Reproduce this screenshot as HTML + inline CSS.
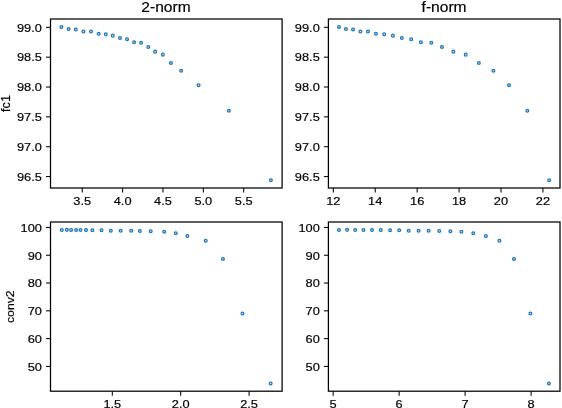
<!DOCTYPE html>
<html><head><meta charset="utf-8"><style>
html,body{margin:0;padding:0;background:#fff;}
svg{display:block;will-change:transform;}
text{font-family:"Liberation Sans",sans-serif;font-size:11.6px;fill:#000;stroke:#000;stroke-width:0.18px;}
</style></head><body>
<svg width="562" height="408" viewBox="0 0 562 408">
<rect width="562" height="408" fill="#fff"/>
<rect x="50.5" y="19.0" width="231.60" height="169.00" fill="none" stroke="#000" stroke-width="1.25"/>
<rect x="328.4" y="19.0" width="231.60" height="169.00" fill="none" stroke="#000" stroke-width="1.25"/>
<rect x="50.5" y="222.0" width="231.60" height="169.20" fill="none" stroke="#000" stroke-width="1.25"/>
<rect x="328.4" y="222.0" width="231.60" height="169.20" fill="none" stroke="#000" stroke-width="1.25"/>
<line x1="46.00" y1="27.32" x2="50.50" y2="27.32" stroke="#000" stroke-width="1.05"/>
<text x="41.90" y="31.62" text-anchor="end" textLength="24.92" lengthAdjust="spacingAndGlyphs">99.0</text>
<line x1="46.00" y1="57.17" x2="50.50" y2="57.17" stroke="#000" stroke-width="1.05"/>
<text x="41.90" y="61.47" text-anchor="end" textLength="24.92" lengthAdjust="spacingAndGlyphs">98.5</text>
<line x1="46.00" y1="87.02" x2="50.50" y2="87.02" stroke="#000" stroke-width="1.05"/>
<text x="41.90" y="91.32" text-anchor="end" textLength="24.92" lengthAdjust="spacingAndGlyphs">98.0</text>
<line x1="46.00" y1="116.87" x2="50.50" y2="116.87" stroke="#000" stroke-width="1.05"/>
<text x="41.90" y="121.17" text-anchor="end" textLength="24.92" lengthAdjust="spacingAndGlyphs">97.5</text>
<line x1="46.00" y1="146.72" x2="50.50" y2="146.72" stroke="#000" stroke-width="1.05"/>
<text x="41.90" y="151.02" text-anchor="end" textLength="24.92" lengthAdjust="spacingAndGlyphs">97.0</text>
<line x1="46.00" y1="176.57" x2="50.50" y2="176.57" stroke="#000" stroke-width="1.05"/>
<text x="41.90" y="180.87" text-anchor="end" textLength="24.92" lengthAdjust="spacingAndGlyphs">96.5</text>
<line x1="323.90" y1="27.32" x2="328.40" y2="27.32" stroke="#000" stroke-width="1.05"/>
<text x="319.80" y="31.62" text-anchor="end" textLength="24.92" lengthAdjust="spacingAndGlyphs">99.0</text>
<line x1="323.90" y1="57.17" x2="328.40" y2="57.17" stroke="#000" stroke-width="1.05"/>
<text x="319.80" y="61.47" text-anchor="end" textLength="24.92" lengthAdjust="spacingAndGlyphs">98.5</text>
<line x1="323.90" y1="87.02" x2="328.40" y2="87.02" stroke="#000" stroke-width="1.05"/>
<text x="319.80" y="91.32" text-anchor="end" textLength="24.92" lengthAdjust="spacingAndGlyphs">98.0</text>
<line x1="323.90" y1="116.87" x2="328.40" y2="116.87" stroke="#000" stroke-width="1.05"/>
<text x="319.80" y="121.17" text-anchor="end" textLength="24.92" lengthAdjust="spacingAndGlyphs">97.5</text>
<line x1="323.90" y1="146.72" x2="328.40" y2="146.72" stroke="#000" stroke-width="1.05"/>
<text x="319.80" y="151.02" text-anchor="end" textLength="24.92" lengthAdjust="spacingAndGlyphs">97.0</text>
<line x1="323.90" y1="176.57" x2="328.40" y2="176.57" stroke="#000" stroke-width="1.05"/>
<text x="319.80" y="180.87" text-anchor="end" textLength="24.92" lengthAdjust="spacingAndGlyphs">96.5</text>
<line x1="46.00" y1="227.46" x2="50.50" y2="227.46" stroke="#000" stroke-width="1.05"/>
<text x="41.90" y="231.76" text-anchor="end" textLength="21.36" lengthAdjust="spacingAndGlyphs">100</text>
<line x1="46.00" y1="255.25" x2="50.50" y2="255.25" stroke="#000" stroke-width="1.05"/>
<text x="41.90" y="259.55" text-anchor="end" textLength="14.24" lengthAdjust="spacingAndGlyphs">90</text>
<line x1="46.00" y1="283.04" x2="50.50" y2="283.04" stroke="#000" stroke-width="1.05"/>
<text x="41.90" y="287.34" text-anchor="end" textLength="14.24" lengthAdjust="spacingAndGlyphs">80</text>
<line x1="46.00" y1="310.83" x2="50.50" y2="310.83" stroke="#000" stroke-width="1.05"/>
<text x="41.90" y="315.13" text-anchor="end" textLength="14.24" lengthAdjust="spacingAndGlyphs">70</text>
<line x1="46.00" y1="338.62" x2="50.50" y2="338.62" stroke="#000" stroke-width="1.05"/>
<text x="41.90" y="342.92" text-anchor="end" textLength="14.24" lengthAdjust="spacingAndGlyphs">60</text>
<line x1="46.00" y1="366.41" x2="50.50" y2="366.41" stroke="#000" stroke-width="1.05"/>
<text x="41.90" y="370.71" text-anchor="end" textLength="14.24" lengthAdjust="spacingAndGlyphs">50</text>
<line x1="323.90" y1="227.46" x2="328.40" y2="227.46" stroke="#000" stroke-width="1.05"/>
<text x="319.80" y="231.76" text-anchor="end" textLength="21.36" lengthAdjust="spacingAndGlyphs">100</text>
<line x1="323.90" y1="255.25" x2="328.40" y2="255.25" stroke="#000" stroke-width="1.05"/>
<text x="319.80" y="259.55" text-anchor="end" textLength="14.24" lengthAdjust="spacingAndGlyphs">90</text>
<line x1="323.90" y1="283.04" x2="328.40" y2="283.04" stroke="#000" stroke-width="1.05"/>
<text x="319.80" y="287.34" text-anchor="end" textLength="14.24" lengthAdjust="spacingAndGlyphs">80</text>
<line x1="323.90" y1="310.83" x2="328.40" y2="310.83" stroke="#000" stroke-width="1.05"/>
<text x="319.80" y="315.13" text-anchor="end" textLength="14.24" lengthAdjust="spacingAndGlyphs">70</text>
<line x1="323.90" y1="338.62" x2="328.40" y2="338.62" stroke="#000" stroke-width="1.05"/>
<text x="319.80" y="342.92" text-anchor="end" textLength="14.24" lengthAdjust="spacingAndGlyphs">60</text>
<line x1="323.90" y1="366.41" x2="328.40" y2="366.41" stroke="#000" stroke-width="1.05"/>
<text x="319.80" y="370.71" text-anchor="end" textLength="14.24" lengthAdjust="spacingAndGlyphs">50</text>
<line x1="82.27" y1="188.00" x2="82.27" y2="192.50" stroke="#000" stroke-width="1.05"/>
<text x="82.27" y="205.00" text-anchor="middle" textLength="17.80" lengthAdjust="spacingAndGlyphs">3.5</text>
<line x1="122.62" y1="188.00" x2="122.62" y2="192.50" stroke="#000" stroke-width="1.05"/>
<text x="122.62" y="205.00" text-anchor="middle" textLength="17.80" lengthAdjust="spacingAndGlyphs">4.0</text>
<line x1="162.97" y1="188.00" x2="162.97" y2="192.50" stroke="#000" stroke-width="1.05"/>
<text x="162.97" y="205.00" text-anchor="middle" textLength="17.80" lengthAdjust="spacingAndGlyphs">4.5</text>
<line x1="203.32" y1="188.00" x2="203.32" y2="192.50" stroke="#000" stroke-width="1.05"/>
<text x="203.32" y="205.00" text-anchor="middle" textLength="17.80" lengthAdjust="spacingAndGlyphs">5.0</text>
<line x1="243.67" y1="188.00" x2="243.67" y2="192.50" stroke="#000" stroke-width="1.05"/>
<text x="243.67" y="205.00" text-anchor="middle" textLength="17.80" lengthAdjust="spacingAndGlyphs">5.5</text>
<line x1="333.32" y1="188.00" x2="333.32" y2="192.50" stroke="#000" stroke-width="1.05"/>
<text x="333.32" y="205.00" text-anchor="middle" textLength="14.24" lengthAdjust="spacingAndGlyphs">12</text>
<line x1="375.24" y1="188.00" x2="375.24" y2="192.50" stroke="#000" stroke-width="1.05"/>
<text x="375.24" y="205.00" text-anchor="middle" textLength="14.24" lengthAdjust="spacingAndGlyphs">14</text>
<line x1="417.16" y1="188.00" x2="417.16" y2="192.50" stroke="#000" stroke-width="1.05"/>
<text x="417.16" y="205.00" text-anchor="middle" textLength="14.24" lengthAdjust="spacingAndGlyphs">16</text>
<line x1="459.08" y1="188.00" x2="459.08" y2="192.50" stroke="#000" stroke-width="1.05"/>
<text x="459.08" y="205.00" text-anchor="middle" textLength="14.24" lengthAdjust="spacingAndGlyphs">18</text>
<line x1="501.00" y1="188.00" x2="501.00" y2="192.50" stroke="#000" stroke-width="1.05"/>
<text x="501.00" y="205.00" text-anchor="middle" textLength="14.24" lengthAdjust="spacingAndGlyphs">20</text>
<line x1="542.92" y1="188.00" x2="542.92" y2="192.50" stroke="#000" stroke-width="1.05"/>
<text x="542.92" y="205.00" text-anchor="middle" textLength="14.24" lengthAdjust="spacingAndGlyphs">22</text>
<line x1="112.30" y1="391.20" x2="112.30" y2="395.70" stroke="#000" stroke-width="1.05"/>
<text x="112.30" y="408.20" text-anchor="middle" textLength="17.80" lengthAdjust="spacingAndGlyphs">1.5</text>
<line x1="180.70" y1="391.20" x2="180.70" y2="395.70" stroke="#000" stroke-width="1.05"/>
<text x="180.70" y="408.20" text-anchor="middle" textLength="17.80" lengthAdjust="spacingAndGlyphs">2.0</text>
<line x1="249.10" y1="391.20" x2="249.10" y2="395.70" stroke="#000" stroke-width="1.05"/>
<text x="249.10" y="408.20" text-anchor="middle" textLength="17.80" lengthAdjust="spacingAndGlyphs">2.5</text>
<line x1="333.17" y1="391.20" x2="333.17" y2="395.70" stroke="#000" stroke-width="1.05"/>
<text x="333.17" y="408.20" text-anchor="middle" textLength="7.12" lengthAdjust="spacingAndGlyphs">5</text>
<line x1="399.15" y1="391.20" x2="399.15" y2="395.70" stroke="#000" stroke-width="1.05"/>
<text x="399.15" y="408.20" text-anchor="middle" textLength="7.12" lengthAdjust="spacingAndGlyphs">6</text>
<line x1="465.13" y1="391.20" x2="465.13" y2="395.70" stroke="#000" stroke-width="1.05"/>
<text x="465.13" y="408.20" text-anchor="middle" textLength="7.12" lengthAdjust="spacingAndGlyphs">7</text>
<line x1="531.11" y1="391.20" x2="531.11" y2="395.70" stroke="#000" stroke-width="1.05"/>
<text x="531.11" y="408.20" text-anchor="middle" textLength="7.12" lengthAdjust="spacingAndGlyphs">8</text>
<circle cx="61.4" cy="27.1" r="1.4" fill="#cfe2f1" stroke="#1f77b4" stroke-width="1.25"/>
<circle cx="68.65" cy="28.95" r="1.4" fill="#cfe2f1" stroke="#1f77b4" stroke-width="1.25"/>
<circle cx="75.77" cy="29.52" r="1.4" fill="#cfe2f1" stroke="#1f77b4" stroke-width="1.25"/>
<circle cx="83.45" cy="31.5" r="1.4" fill="#cfe2f1" stroke="#1f77b4" stroke-width="1.25"/>
<circle cx="91.0" cy="31.4" r="1.4" fill="#cfe2f1" stroke="#1f77b4" stroke-width="1.25"/>
<circle cx="98.68" cy="33.79" r="1.4" fill="#cfe2f1" stroke="#1f77b4" stroke-width="1.25"/>
<circle cx="105.8" cy="34.36" r="1.4" fill="#cfe2f1" stroke="#1f77b4" stroke-width="1.25"/>
<circle cx="112.78" cy="35.64" r="1.4" fill="#cfe2f1" stroke="#1f77b4" stroke-width="1.25"/>
<circle cx="120.0" cy="37.9" r="1.4" fill="#cfe2f1" stroke="#1f77b4" stroke-width="1.25"/>
<circle cx="127.05" cy="39.2" r="1.4" fill="#cfe2f1" stroke="#1f77b4" stroke-width="1.25"/>
<circle cx="134.1" cy="42.24" r="1.4" fill="#cfe2f1" stroke="#1f77b4" stroke-width="1.25"/>
<circle cx="141.07" cy="42.81" r="1.4" fill="#cfe2f1" stroke="#1f77b4" stroke-width="1.25"/>
<circle cx="148.33" cy="46.94" r="1.4" fill="#cfe2f1" stroke="#1f77b4" stroke-width="1.25"/>
<circle cx="155.16" cy="51.64" r="1.4" fill="#cfe2f1" stroke="#1f77b4" stroke-width="1.25"/>
<circle cx="162.85" cy="54.63" r="1.4" fill="#cfe2f1" stroke="#1f77b4" stroke-width="1.25"/>
<circle cx="170.96" cy="63.03" r="1.4" fill="#cfe2f1" stroke="#1f77b4" stroke-width="1.25"/>
<circle cx="181.2" cy="70.75" r="1.4" fill="#cfe2f1" stroke="#1f77b4" stroke-width="1.25"/>
<circle cx="198.6" cy="85.15" r="1.4" fill="#cfe2f1" stroke="#1f77b4" stroke-width="1.25"/>
<circle cx="228.9" cy="110.8" r="1.4" fill="#cfe2f1" stroke="#1f77b4" stroke-width="1.25"/>
<circle cx="270.9" cy="180.2" r="1.4" fill="#cfe2f1" stroke="#1f77b4" stroke-width="1.25"/>
<circle cx="338.95" cy="27.1" r="1.4" fill="#cfe2f1" stroke="#1f77b4" stroke-width="1.25"/>
<circle cx="345.93" cy="28.95" r="1.4" fill="#cfe2f1" stroke="#1f77b4" stroke-width="1.25"/>
<circle cx="353.05" cy="29.52" r="1.4" fill="#cfe2f1" stroke="#1f77b4" stroke-width="1.25"/>
<circle cx="360.45" cy="31.5" r="1.4" fill="#cfe2f1" stroke="#1f77b4" stroke-width="1.25"/>
<circle cx="367.99" cy="31.4" r="1.4" fill="#cfe2f1" stroke="#1f77b4" stroke-width="1.25"/>
<circle cx="375.96" cy="33.79" r="1.4" fill="#cfe2f1" stroke="#1f77b4" stroke-width="1.25"/>
<circle cx="384.22" cy="34.36" r="1.4" fill="#cfe2f1" stroke="#1f77b4" stroke-width="1.25"/>
<circle cx="392.9" cy="35.64" r="1.4" fill="#cfe2f1" stroke="#1f77b4" stroke-width="1.25"/>
<circle cx="401.85" cy="37.9" r="1.4" fill="#cfe2f1" stroke="#1f77b4" stroke-width="1.25"/>
<circle cx="411.23" cy="39.2" r="1.4" fill="#cfe2f1" stroke="#1f77b4" stroke-width="1.25"/>
<circle cx="420.91" cy="42.24" r="1.4" fill="#cfe2f1" stroke="#1f77b4" stroke-width="1.25"/>
<circle cx="431.3" cy="42.81" r="1.4" fill="#cfe2f1" stroke="#1f77b4" stroke-width="1.25"/>
<circle cx="441.98" cy="46.94" r="1.4" fill="#cfe2f1" stroke="#1f77b4" stroke-width="1.25"/>
<circle cx="453.37" cy="51.64" r="1.4" fill="#cfe2f1" stroke="#1f77b4" stroke-width="1.25"/>
<circle cx="465.7" cy="54.63" r="1.4" fill="#cfe2f1" stroke="#1f77b4" stroke-width="1.25"/>
<circle cx="478.87" cy="63.03" r="1.4" fill="#cfe2f1" stroke="#1f77b4" stroke-width="1.25"/>
<circle cx="493.39" cy="70.75" r="1.4" fill="#cfe2f1" stroke="#1f77b4" stroke-width="1.25"/>
<circle cx="509.0" cy="85.15" r="1.4" fill="#cfe2f1" stroke="#1f77b4" stroke-width="1.25"/>
<circle cx="527.33" cy="110.8" r="1.4" fill="#cfe2f1" stroke="#1f77b4" stroke-width="1.25"/>
<circle cx="549.2" cy="180.2" r="1.4" fill="#cfe2f1" stroke="#1f77b4" stroke-width="1.25"/>
<circle cx="61.8" cy="229.96" r="1.4" fill="#cfe2f1" stroke="#1f77b4" stroke-width="1.25"/>
<circle cx="66.9" cy="229.85" r="1.4" fill="#cfe2f1" stroke="#1f77b4" stroke-width="1.25"/>
<circle cx="71.1" cy="229.96" r="1.4" fill="#cfe2f1" stroke="#1f77b4" stroke-width="1.25"/>
<circle cx="76.1" cy="229.96" r="1.4" fill="#cfe2f1" stroke="#1f77b4" stroke-width="1.25"/>
<circle cx="80.5" cy="229.96" r="1.4" fill="#cfe2f1" stroke="#1f77b4" stroke-width="1.25"/>
<circle cx="86.0" cy="230.1" r="1.4" fill="#cfe2f1" stroke="#1f77b4" stroke-width="1.25"/>
<circle cx="92.35" cy="230.15" r="1.4" fill="#cfe2f1" stroke="#1f77b4" stroke-width="1.25"/>
<circle cx="101.5" cy="230.24" r="1.4" fill="#cfe2f1" stroke="#1f77b4" stroke-width="1.25"/>
<circle cx="110.8" cy="230.67" r="1.4" fill="#cfe2f1" stroke="#1f77b4" stroke-width="1.25"/>
<circle cx="120.65" cy="230.67" r="1.4" fill="#cfe2f1" stroke="#1f77b4" stroke-width="1.25"/>
<circle cx="131.2" cy="230.67" r="1.4" fill="#cfe2f1" stroke="#1f77b4" stroke-width="1.25"/>
<circle cx="139.8" cy="230.95" r="1.4" fill="#cfe2f1" stroke="#1f77b4" stroke-width="1.25"/>
<circle cx="150.7" cy="231.24" r="1.4" fill="#cfe2f1" stroke="#1f77b4" stroke-width="1.25"/>
<circle cx="164.2" cy="231.67" r="1.4" fill="#cfe2f1" stroke="#1f77b4" stroke-width="1.25"/>
<circle cx="175.8" cy="233.2" r="1.4" fill="#cfe2f1" stroke="#1f77b4" stroke-width="1.25"/>
<circle cx="187.35" cy="236.1" r="1.4" fill="#cfe2f1" stroke="#1f77b4" stroke-width="1.25"/>
<circle cx="205.7" cy="240.7" r="1.4" fill="#cfe2f1" stroke="#1f77b4" stroke-width="1.25"/>
<circle cx="222.95" cy="258.9" r="1.4" fill="#cfe2f1" stroke="#1f77b4" stroke-width="1.25"/>
<circle cx="242.5" cy="313.4" r="1.4" fill="#cfe2f1" stroke="#1f77b4" stroke-width="1.25"/>
<circle cx="270.65" cy="383.5" r="1.4" fill="#cfe2f1" stroke="#1f77b4" stroke-width="1.25"/>
<circle cx="338.95" cy="229.96" r="1.4" fill="#cfe2f1" stroke="#1f77b4" stroke-width="1.25"/>
<circle cx="347.07" cy="229.85" r="1.4" fill="#cfe2f1" stroke="#1f77b4" stroke-width="1.25"/>
<circle cx="355.18" cy="229.96" r="1.4" fill="#cfe2f1" stroke="#1f77b4" stroke-width="1.25"/>
<circle cx="363.44" cy="229.96" r="1.4" fill="#cfe2f1" stroke="#1f77b4" stroke-width="1.25"/>
<circle cx="371.98" cy="229.96" r="1.4" fill="#cfe2f1" stroke="#1f77b4" stroke-width="1.25"/>
<circle cx="380.8" cy="230.1" r="1.4" fill="#cfe2f1" stroke="#1f77b4" stroke-width="1.25"/>
<circle cx="390.1" cy="230.15" r="1.4" fill="#cfe2f1" stroke="#1f77b4" stroke-width="1.25"/>
<circle cx="399.2" cy="230.24" r="1.4" fill="#cfe2f1" stroke="#1f77b4" stroke-width="1.25"/>
<circle cx="408.65" cy="230.67" r="1.4" fill="#cfe2f1" stroke="#1f77b4" stroke-width="1.25"/>
<circle cx="418.6" cy="230.67" r="1.4" fill="#cfe2f1" stroke="#1f77b4" stroke-width="1.25"/>
<circle cx="428.6" cy="230.67" r="1.4" fill="#cfe2f1" stroke="#1f77b4" stroke-width="1.25"/>
<circle cx="439.25" cy="230.95" r="1.4" fill="#cfe2f1" stroke="#1f77b4" stroke-width="1.25"/>
<circle cx="450.4" cy="231.24" r="1.4" fill="#cfe2f1" stroke="#1f77b4" stroke-width="1.25"/>
<circle cx="461.4" cy="231.67" r="1.4" fill="#cfe2f1" stroke="#1f77b4" stroke-width="1.25"/>
<circle cx="473.3" cy="233.2" r="1.4" fill="#cfe2f1" stroke="#1f77b4" stroke-width="1.25"/>
<circle cx="485.87" cy="236.1" r="1.4" fill="#cfe2f1" stroke="#1f77b4" stroke-width="1.25"/>
<circle cx="499.42" cy="240.7" r="1.4" fill="#cfe2f1" stroke="#1f77b4" stroke-width="1.25"/>
<circle cx="513.97" cy="258.9" r="1.4" fill="#cfe2f1" stroke="#1f77b4" stroke-width="1.25"/>
<circle cx="530.37" cy="313.4" r="1.4" fill="#cfe2f1" stroke="#1f77b4" stroke-width="1.25"/>
<circle cx="548.93" cy="383.5" r="1.4" fill="#cfe2f1" stroke="#1f77b4" stroke-width="1.25"/>
<text x="166.0" y="12.2" text-anchor="middle" style="font-size:14px" textLength="49.3" lengthAdjust="spacingAndGlyphs">2-norm</text>
<text x="444.1" y="12.2" text-anchor="middle" style="font-size:14px" textLength="45" lengthAdjust="spacingAndGlyphs">f-norm</text>
<text transform="translate(10.2,103.5) rotate(-90)" text-anchor="middle" style="font-size:12px" textLength="16.9" lengthAdjust="spacingAndGlyphs">fc1</text>
<text transform="translate(14.4,306.7) rotate(-90)" text-anchor="middle" textLength="32.7" lengthAdjust="spacingAndGlyphs">conv2</text>
</svg>
</body></html>
